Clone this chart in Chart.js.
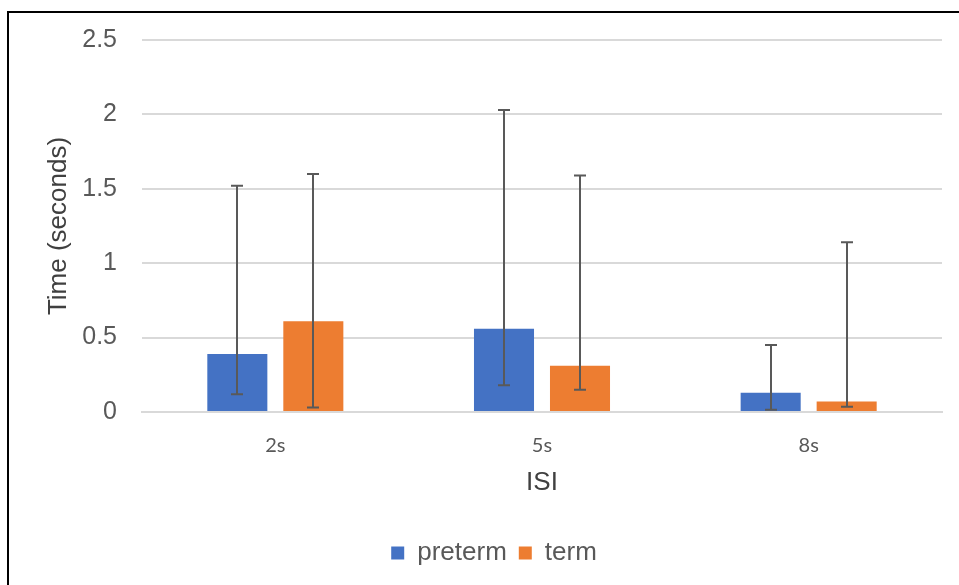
<!DOCTYPE html>
<html>
<head>
<meta charset="utf-8">
<script src="https://cdn.jsdelivr.net/npm/chart.js@4.4.0/dist/chart.umd.min.js"></script>
<style>
  html, body { margin: 0; padding: 0; background: #fff; }
  #wrap { position: relative; width: 959px; height: 585px; overflow: hidden; }
  #frame { position: absolute; left: 7px; top: 11px; width: 960px; height: 600px;
           border-left: 2px solid #000; border-top: 2px solid #000; }
  canvas { position: absolute; left: 0; top: 0; }
</style>
</head>
<body>
<div id="wrap">
  <div id="frame"></div>
  <canvas id="isiChart" width="959" height="585"></canvas>
</div>
<script>
// chart data
const categories = ['2s', '5s', '8s'];
const pretermValues = [0.39, 0.56, 0.13];
const termValues = [0.61, 0.31, 0.07];
// error bar ends (low / high) for each bar
const pretermLow = [0.12, 0.18, 0.015];
const pretermHigh = [1.52, 2.03, 0.45];
const termLow = [0.03, 0.15, 0.035];
const termHigh = [1.60, 1.59, 1.14];
const yTickValues = [0, 0.5, 1, 1.5, 2, 2.5];

const textColor = '#595959';
const gridColor = '#d9d9d9';

// draws the asymmetric error bars on top of each bar
const errorBars = {
    id: 'errorBars',
    afterDatasetsDraw(chart) {
        const ctx = chart.ctx;
        const yScale = chart.scales.y;
        chart.data.datasets.forEach((ds, i) => {
            const meta = chart.getDatasetMeta(i);
            meta.data.forEach((bar, j) => {
                const yLow = yScale.getPixelForValue(ds.errLow[j]);
                const yHigh = yScale.getPixelForValue(ds.errHigh[j]);
                const x = Math.round(bar.x);
                ctx.save();
                ctx.strokeStyle = '#595959';
                ctx.lineWidth = 2;
                ctx.beginPath();
                ctx.moveTo(x, yLow);
                ctx.lineTo(x, yHigh);
                ctx.moveTo(x - 6, yLow);
                ctx.lineTo(x + 6, yLow);
                ctx.moveTo(x - 6, yHigh);
                ctx.lineTo(x + 6, yHigh);
                ctx.stroke();
                ctx.restore();
            });
        });
    }
};

const ctx = document.getElementById('isiChart').getContext('2d');
const isiChart = new Chart(ctx, {
    type: 'bar',
    data: {
        labels: categories,
        datasets: [
            {
                label: 'preterm',
                data: pretermValues,
                errLow: pretermLow,
                errHigh: pretermHigh,
                backgroundColor: '#4472c4',
                categoryPercentage: 0.57,
                barPercentage: 0.79
            },
            {
                label: 'term',
                data: termValues,
                errLow: termLow,
                errHigh: termHigh,
                backgroundColor: '#ed7d31',
                categoryPercentage: 0.57,
                barPercentage: 0.79
            }
        ]
    },
    options: {
        responsive: false,
        animation: false,
        devicePixelRatio: 1,
        layout: {
            padding: { left: 46, right: 17, top: 40, bottom: 9 }
        },
        plugins: {
            legend: {
                position: 'bottom',
                labels: {
                    boxWidth: 13,
                    boxHeight: 13,
                    padding: 12,
                    color: textColor,
                    font: { family: 'Liberation Sans, Arial, sans-serif', size: 26 }
                }
            },
            tooltip: { enabled: false }
        },
        scales: {
            x: {
                afterFit(scale) {
                    scale.height = 116;
                },
                grid: { display: false, drawTicks: false },
                border: { color: gridColor, width: 2 },
                ticks: {
                    padding: 22,
                    color: textColor,
                    font: { family: 'Lato, Noto Sans, sans-serif', size: 20 }
                },
                title: {
                    display: true,
                    text: 'ISI',
                    color: '#404040',
                    padding: { top: 12, bottom: 30 },
                    font: { family: 'Liberation Sans, Arial, sans-serif', size: 26 }
                }
            },
            y: {
                min: 0,
                max: 2.5,
                afterBuildTicks(scale) {
                    scale.ticks = yTickValues.map(v => ({ value: v }));
                },
                afterFit(scale) {
                    scale.width = 96;
                },
                grid: { color: gridColor, lineWidth: 2, drawTicks: false },
                border: { display: false },
                ticks: {
                    padding: 25,
                    color: textColor,
                    font: { family: 'Liberation Sans, Arial, sans-serif', size: 25 },
                    callback: (v) => String(v)
                },
                title: {
                    display: true,
                    text: 'Time (seconds)',
                    color: '#404040',
                    padding: { top: 0, bottom: 0 },
                    font: { family: 'Liberation Sans, Arial, sans-serif', size: 26, lineHeight: 1 }
                }
            }
        }
    },
    plugins: [errorBars]
});
</script>
</body>
</html>
